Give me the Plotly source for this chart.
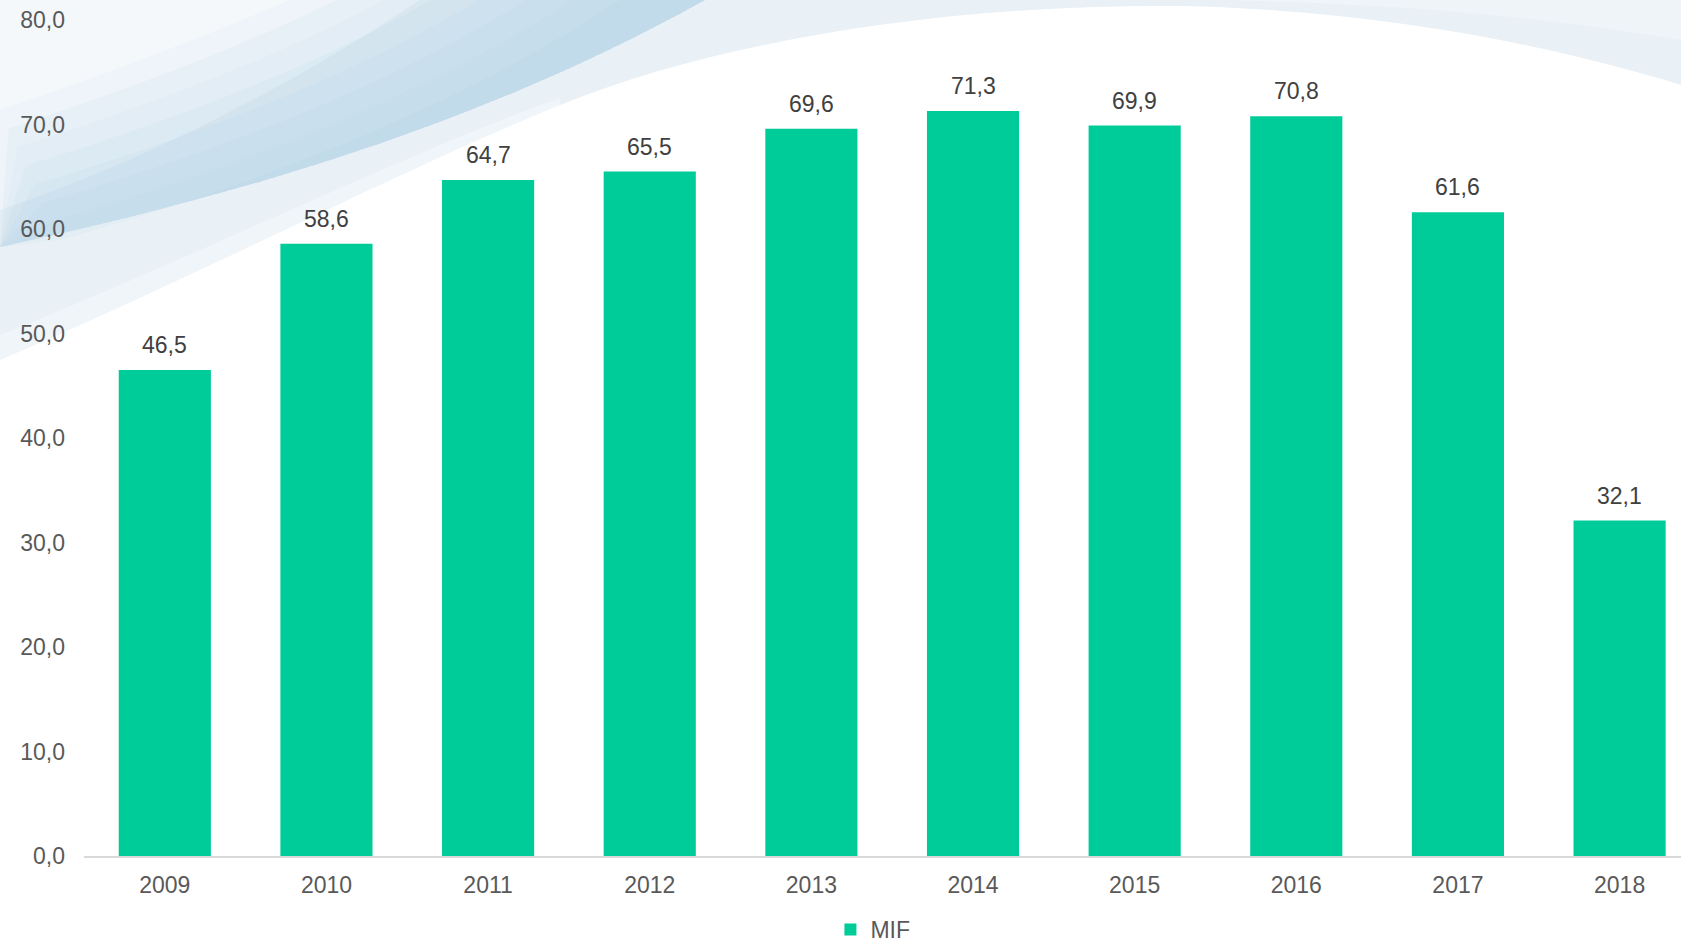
import plotly.graph_objects as go

years = ["2009", "2010", "2011", "2012", "2013", "2014", "2015", "2016", "2017", "2018"]
mif = [46.5, 58.6, 64.7, 65.5, 69.6, 71.3, 69.9, 70.8, 61.6, 32.1]
y_ticks = [0, 10, 20, 30, 40, 50, 60, 70, 80]

W, H = 1681, 947
L, R, T, B = 84, 0, 20, 91
PW, PH = W - L - R, H - T - B


def px(x, y):
    return ((x - L) / PW, (H - B - y) / PH)


def path(cmds):
    out = []
    for c in cmds:
        op, pts = c[0], c[1:]
        coords = " ".join("%.5f,%.5f" % px(*p) for p in pts)
        out.append(op + coords)
    return " ".join(out) + " Z"


FONT = "Liberation Sans, Arial, sans-serif"

fig = go.Figure()
fig.add_trace(go.Bar(
    x=years, y=mif, name="MIF",
    marker=dict(color="#00CC99", line=dict(width=0)),
))

for i, v in enumerate(mif):
    fig.add_annotation(
        x=i, y=v, xref="x", yref="y", text=("%.1f" % v).replace(".", ","),
        showarrow=False, yanchor="bottom", yshift=10,
        font=dict(family=FONT, size=23, color="#404040"),
    )

shapes = []
# light outer region above the white hill
shapes.append(dict(type="path", xref="paper", yref="paper", layer="below",
                   path=path([("M", (0, 0)), ("L", (1681, 0)), ("L", (1681, 85)),
                              ("C", (1550, 45), (1380, 10), (1180, 6)),
                              ("C", (950, 4), (720, 40), (560, 105)),
                              ("C", (400, 170), (200, 275), (0, 360))]),
                   fillcolor="#e9f0f6", line=dict(width=0)))
# soft fade at the lower edge of the left band
shapes.append(dict(type="path", xref="paper", yref="paper", layer="below",
                   path=path([("M", (0, 335)), ("C", (200, 255), (400, 155), (560, 98)),
                              ("L", (560, 105)), ("C", (400, 170), (200, 275), (0, 360))]),
                   fillcolor="rgba(255,255,255,0.35)", line=dict(width=0)))
# whitish haze in the top-left corner and the top-right
shapes.append(dict(type="path", xref="paper", yref="paper", layer="below",
                   path=path([("M", (0, 0)), ("L", (420, 0)),
                              ("C", (300, 80), (150, 160), (0, 210))]),
                   fillcolor="rgba(255,255,255,0.55)", line=dict(width=0)))
shapes.append(dict(type="path", xref="paper", yref="paper", layer="below",
                   path=path([("M", (900, 0)), ("L", (1681, 0)), ("L", (1681, 40)),
                              ("C", (1450, 0), (1200, -5), (900, 0))]),
                   fillcolor="rgba(255,255,255,0.3)", line=dict(width=0)))
# blue swoosh: stacked translucent layers sharing the lower edge
lower = [(0, 247), (240, 195), (480, 125), (705, 0)]
up_wide = [(0, 110), (120, 70), (220, 30), (290, 0)]
up_narrow = [(60, 240), (280, 178), (470, 100), (620, 0)]
n_layers = 8
for k in range(n_layers):
    t = k / (n_layers - 1)
    up = [(a[0] + (b[0] - a[0]) * t, a[1] + (b[1] - a[1]) * t) for a, b in zip(up_wide, up_narrow)]
    shapes.append(dict(type="path", xref="paper", yref="paper", layer="below",
                       path=path([("M", up[0]), ("C", up[1], up[2], up[3]),
                                  ("L", lower[3]), ("C", lower[2], lower[1], lower[0])]),
                       fillcolor="rgba(150,192,226,0.065)", line=dict(width=0)))

fig.update_layout(
    width=W, height=H,
    margin=dict(l=L, r=R, t=T, b=B, pad=0, autoexpand=False),
    paper_bgcolor="white", plot_bgcolor="rgba(0,0,0,0)",
    separators=", ",
    bargap=0.43,
    shapes=shapes,
    showlegend=True,
    legend=dict(orientation="h", x=0.494, xanchor="center", y=-0.1136, yanchor="bottom",
                font=dict(family=FONT, size=23, color="#595959"),
                itemwidth=30, bgcolor="rgba(0,0,0,0)"),
    font=dict(family=FONT, size=23, color="#595959"),
    xaxis=dict(type="category", range=[-0.5, 9.38], showgrid=False, zeroline=False,
               showline=True, linecolor="#d9d9d9", linewidth=2,
               ticks="", ticklabelstandoff=7, automargin=False,
               tickfont=dict(family=FONT, size=23, color="#595959"), fixedrange=True),
    yaxis=dict(range=[0, 80], tickvals=y_ticks, tickformat=".1f",
               showgrid=False, zeroline=False, showline=False,
               ticks="", ticklabelstandoff=18, automargin=False,
               tickfont=dict(family=FONT, size=23, color="#595959"), fixedrange=True),
)

fig.write_html("out.html", config={"displayModeBar": False},
               post_script="document.body.style.margin='0';document.body.style.overflow='hidden';")
